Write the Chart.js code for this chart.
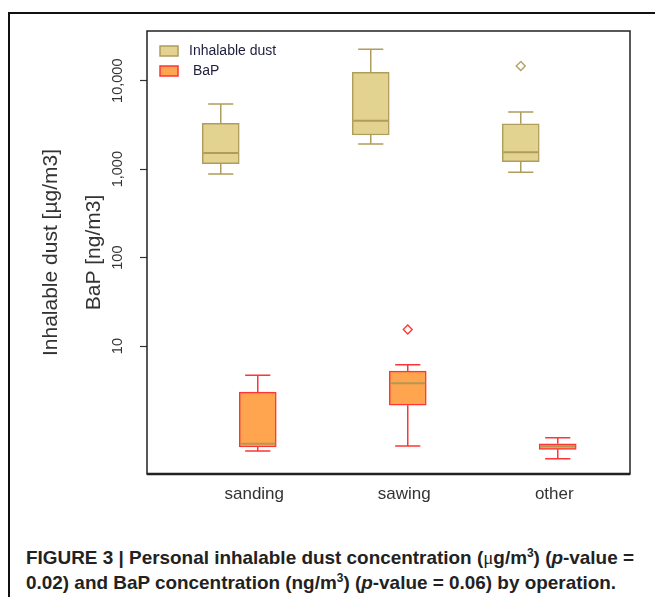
<!DOCTYPE html>
<html lang="en">
<head>
  <meta charset="UTF-8">
  <title>Figure 3 - inhalable dust and BaP by operation</title>
  <script src="https://cdn.jsdelivr.net/npm/chart.js"></script>
  <style>
    html, body { margin: 0; padding: 0; background: #fff; overflow: hidden; }
    body { width: 655px; height: 597px; position: relative; font-family: "Liberation Sans", Arial, sans-serif; }
    .frame { position: absolute; left: 8px; top: 12px; width: 700px; height: 700px; border: 2px solid #111; }
    #chart { position: absolute; left: 0; top: 0; }
    .caption { position: absolute; left: 26px; top: 545px; font-family: "Liberation Sans", Arial, sans-serif;
               font-weight: bold; font-size: 19px; line-height: 25px; color: #222; white-space: nowrap;
               transform-origin: 0 0; }
    .caption .mu { font-family: "Liberation Serif", serif; font-weight: normal; }
    .caption sup { font-size: 12px; line-height: 0; }
  </style>
</head>
<body>
  <div class="frame"></div>
  <canvas id="chart" width="655" height="520"></canvas>
  <div class="caption" id="caption">
    <span id="line1">FIGURE 3 | Personal inhalable dust concentration (<span class="mu">μ</span>g/m<sup>3</sup>) (<i>p</i>-value =</span><br>
    <span>0.02) and BaP concentration (ng/m<sup>3</sup>) (<i>p</i>-value = 0.06) by operation.</span>
  </div>

  <script>
    // categories and box summaries
    const operations = ['sanding', 'sawing', 'other'];

    const dustLow = [883, 1927, 922];
    const dustQ1 = [1153, 2434, 1216];
    const dustMedian = [1524, 3530, 1553];
    const dustQ3 = [3300, 12440, 3267];
    const dustHigh = [5455, 22650, 4430];
    const dustOutliers = [[], [], [14650]];

    const bapLow = [0.651, 0.74, 0.533];
    const bapQ1 = [0.723, 2.15, 0.681];
    const bapMedian = [0.787, 3.80, 0.736];
    const bapQ3 = [3.02, 5.22, 0.787];
    const bapHigh = [4.67, 6.15, 0.92];
    const bapOutliers = [[], [15.4], []];

    const yTicks = [10, 100, 1000, 10000];

    const dustFill = '#E2D391', dustLine = '#B09C5C';
    const bapFill = '#FFA54F', bapLine = '#FF3434';

    function boxes(q1, q3) {
      return operations.map((op, i) => ({ x: i + 1, y: [q1[i], q3[i]] }));
    }

    // whiskers, medians, outliers, plot frame and the legend inside it
    const boxPlot = {
      id: 'boxPlot',
      afterDatasetsDraw(chart) {
        const ctx = chart.ctx;
        const y = chart.scales.y;
        chart.data.datasets.forEach((ds, di) => {
          const meta = chart.getDatasetMeta(di);
          meta.data.forEach((el, i) => {
            const x = el.x, cap = el.width * 0.34, half = el.width / 2;
            ctx.save();
            ctx.strokeStyle = ds.borderColor;
            ctx.lineWidth = 1.5;
            ctx.beginPath();
            ctx.moveTo(x, y.getPixelForValue(ds.q3[i]));
            ctx.lineTo(x, y.getPixelForValue(ds.high[i]));
            ctx.moveTo(x - cap, y.getPixelForValue(ds.high[i]));
            ctx.lineTo(x + cap, y.getPixelForValue(ds.high[i]));
            ctx.moveTo(x, y.getPixelForValue(ds.q1[i]));
            ctx.lineTo(x, y.getPixelForValue(ds.low[i]));
            ctx.moveTo(x - cap, y.getPixelForValue(ds.low[i]));
            ctx.lineTo(x + cap, y.getPixelForValue(ds.low[i]));
            ctx.stroke();

            ctx.strokeStyle = ds.medianColor;
            ctx.lineWidth = 2;
            ctx.beginPath();
            ctx.moveTo(x - half + 1, y.getPixelForValue(ds.median[i]));
            ctx.lineTo(x + half - 1, y.getPixelForValue(ds.median[i]));
            ctx.stroke();

            ctx.strokeStyle = ds.borderColor;
            ctx.lineWidth = 1.3;
            ds.outliers[i].forEach(v => {
              const py = y.getPixelForValue(v), r = 4.5;
              ctx.beginPath();
              ctx.moveTo(x, py - r);
              ctx.lineTo(x + r, py);
              ctx.lineTo(x, py + r);
              ctx.lineTo(x - r, py);
              ctx.closePath();
              ctx.stroke();
            });
            ctx.restore();
          });
        });
      },
      afterDraw(chart) {
        const { ctx, chartArea: a } = chart;
        ctx.save();
        ctx.strokeStyle = '#222';
        ctx.lineWidth = 1.5;
        ctx.strokeRect(a.left, a.top, a.right - a.left, a.bottom - a.top);
        ctx.lineWidth = 2.5;
        ctx.beginPath();
        ctx.moveTo(a.left, a.bottom);
        ctx.lineTo(a.right, a.bottom);
        ctx.stroke();

        // legend, top left inside the plot
        ctx.font = '14px "Liberation Sans", Arial, sans-serif';
        ctx.textBaseline = 'middle';
        chart.data.datasets.forEach((ds, i) => {
          const bx = a.left + 13, by = a.top + 15 + i * 20;
          ctx.fillStyle = ds.backgroundColor;
          ctx.fillRect(bx, by, 18, 10);
          ctx.strokeStyle = ds.borderColor;
          ctx.lineWidth = 1.5;
          ctx.strokeRect(bx, by, 18, 10);
          ctx.fillStyle = '#1e1e3c';
          ctx.fillText(ds.label, bx + 29 + i * 4, by + 5);
        });
        ctx.restore();
      }
    };

    new Chart(document.getElementById('chart'), {
      type: 'bar',
      data: {
        datasets: [{
          label: 'Inhalable dust',
          data: boxes(dustQ1, dustQ3),
          backgroundColor: dustFill,
          borderColor: dustLine,
          borderWidth: 1.5,
          borderSkipped: false,
          barThickness: 37,
          low: dustLow, q1: dustQ1, median: dustMedian, q3: dustQ3, high: dustHigh,
          outliers: dustOutliers, medianColor: dustLine
        }, {
          label: 'BaP',
          data: boxes(bapQ1, bapQ3),
          backgroundColor: bapFill,
          borderColor: bapLine,
          borderWidth: 1.5,
          borderSkipped: false,
          barThickness: 37,
          low: bapLow, q1: bapQ1, median: bapMedian, q3: bapQ3, high: bapHigh,
          outliers: bapOutliers, medianColor: '#B09A55'
        }]
      },
      options: {
        responsive: false,
        animation: false,
        layout: { padding: { top: 31, right: 25, left: 0, bottom: 0 } },
        plugins: {
          legend: { display: false },
          tooltip: { enabled: false }
        },
        scales: {
          x: {
            type: 'linear',
            offset: false,
            min: 0.385,
            max: 3.605,
            grid: { display: false },
            border: { display: false },
            afterFit: s => { s.height = 46; },
            afterBuildTicks: s => { s.ticks = operations.map((op, i) => ({ value: i + 1.1 })); },
            ticks: {
              maxRotation: 0,
              padding: 2,
              color: '#333',
              font: { family: 'Liberation Sans', size: 17 },
              callback: (v, i) => operations[i]
            }
          },
          y: {
            type: 'logarithmic',
            min: 0.358,
            max: 36500,
            border: { display: false },
            grid: { drawOnChartArea: false, tickLength: 7, color: '#333', tickWidth: 1.2 },
            afterFit: s => { s.width = 147; },
            afterBuildTicks: s => { s.ticks = yTicks.map(v => ({ value: v })); },
            ticks: {
              minRotation: 90,
              maxRotation: 90,
              crossAlign: 'center',
              padding: 0,
              color: '#333',
              font: { family: 'Liberation Sans', size: 14.5 },
              callback: v => Number(v).toLocaleString('en-US')
            },
            title: {
              display: true,
              text: ['Inhalable dust [µg/m3]', 'BaP [ng/m3]'],
              color: '#333',
              font: { family: 'Liberation Sans', size: 21, lineHeight: 2.05 },
              padding: { top: 30, bottom: 0 }
            }
          }
        }
      },
      plugins: [boxPlot]
    });

    // squeeze the caption so its first line spans the same width as the figure's
    const cap = document.getElementById('caption');
    const w = document.getElementById('line1').getBoundingClientRect().width;
    cap.style.transform = 'scaleX(' + (608 / w) + ')';
  </script>
</body>
</html>
